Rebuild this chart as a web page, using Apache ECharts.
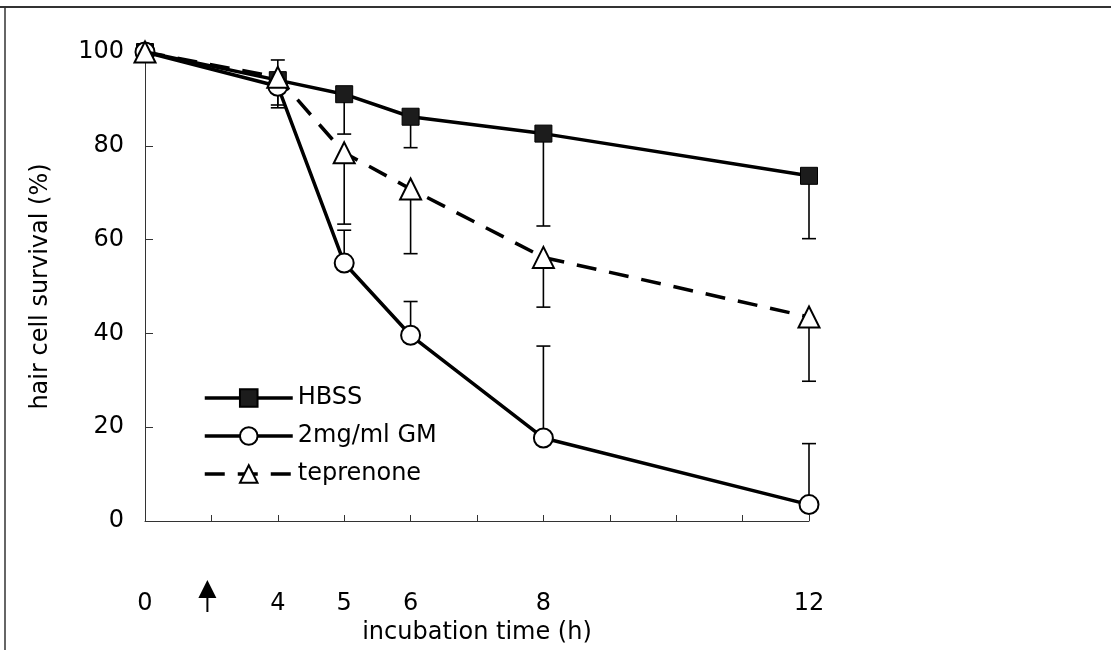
<!DOCTYPE html>
<html>
<head>
<meta charset="utf-8">
<script src="https://cdn.jsdelivr.net/npm/echarts@6/dist/echarts.min.js"></script>
<style>
  html, body { margin: 0; padding: 0; background: #fff; }
  #chart { width: 1111px; height: 650px; }
</style>
</head>
<body>
<div id="chart"></div>
<script>
// x axis: evenly spaced slots, only some of them labelled
const xSlots = ['0', '2', '4', '5', '6', '7', '8', '9', '10', '11', '12']
const xShown = ['0', '4', '5', '6', '8', '12']
const arrowAt = '2'

const hours = ['0', '4', '5', '6', '8', '12']
const hbss = [100, 94, 91, 86.2, 82.6, 73.6]
const gm = [100, 92.7, 55, 39.6, 17.7, 3.5]
const tep = [100, 94.6, 78.5, 70.8, 56.2, 43.5]

// end point of each error bar (SD)
const hbssErr = [null, 88.7, 82.5, 79.6, 62.9, 60.2]
const gmErr = [null, 88.1, 62.0, 46.8, 37.3, 16.5]
const tepErr = [null, 98.3, 63.3, 57.0, 45.6, 29.8]

const yTicks = { min: 0, max: 100, step: 20 }

const FONT = 'DejaVu Sans'
const chart = echarts.init(document.getElementById('chart'))

function pts(vals) {
  return hours.map((h, i) => [h, vals[i]])
}
function errs(vals, ends) {
  return hours.map((h, i) => [h, vals[i], ends[i]]).filter(d => d[2] != null)
}

function errorBar(params, api) {
  const x = api.value(0)
  const a = api.coord([x, api.value(1)])
  const b = api.coord([x, api.value(2)])
  const hw = 7
  const st = { stroke: '#000', lineWidth: 1.6 }
  return {
    type: 'group',
    children: [
      { type: 'line', shape: { x1: a[0], y1: a[1], x2: b[0], y2: b[1] }, style: st },
      { type: 'line', shape: { x1: b[0] - hw, y1: b[1], x2: b[0] + hw, y2: b[1] }, style: st }
    ]
  }
}

function errSeries(data) {
  return {
    type: 'custom',
    renderItem: errorBar,
    data,
    encode: { x: 0, y: [1, 2] },
    z: 1,
    silent: true
  }
}

chart.setOption({
  animation: false,
  backgroundColor: '#fff',
  grid: { left: 145, right: 302, top: 52, bottom: 118 },
  legend: {
    orient: 'vertical',
    left: 198,
    top: 381,
    itemWidth: 88,
    itemHeight: 22,
    itemGap: 14,
    lineStyle: { width: 3.5 },
    textStyle: { fontFamily: FONT, fontSize: 24, color: '#000' },
    data: ['HBSS', '2mg/ml GM', 'teprenone']
  },
  xAxis: {
    type: 'category',
    data: xSlots,
    boundaryGap: false,
    name: 'incubation time (h)',
    nameLocation: 'middle',
    nameGap: 100,
    nameTextStyle: { fontFamily: FONT, fontSize: 24, color: '#000' },
    axisLine: { lineStyle: { color: '#333', width: 1 } },
    axisTick: { inside: true, length: 6, alignWithLabel: true, interval: 0, lineStyle: { color: '#333' } },
    axisLabel: {
      interval: 0,
      margin: 71,
      fontFamily: FONT,
      fontSize: 24,
      color: '#000',
      formatter: v => (xShown.includes(v) ? v : '')
    },
    splitLine: { show: false }
  },
  yAxis: {
    type: 'value',
    min: yTicks.min,
    max: yTicks.max,
    interval: yTicks.step,
    name: 'hair cell survival (%)',
    nameLocation: 'middle',
    nameGap: 92,
    nameRotate: 90,
    nameTextStyle: { fontFamily: FONT, fontSize: 24, color: '#000' },
    axisLine: { show: true, lineStyle: { color: '#333', width: 1 } },
    axisTick: { show: true, inside: true, length: 8, lineStyle: { color: '#333' } },
    axisLabel: { margin: 21, fontFamily: FONT, fontSize: 24, color: '#000' },
    splitLine: { show: false }
  },
  series: [
    errSeries(errs(hbss, hbssErr)),
    errSeries(errs(gm, gmErr)),
    errSeries(errs(tep, tepErr)),
    {
      name: 'HBSS',
      type: 'line',
      data: pts(hbss),
      symbol: 'rect',
      symbolSize: 17,
      lineStyle: { color: '#000', width: 3.5 },
      itemStyle: { color: '#1c1c1c', borderColor: '#000', borderWidth: 1 },
      z: 3
    },
    {
      name: '2mg/ml GM',
      type: 'line',
      data: pts(gm),
      symbol: 'circle',
      symbolSize: 19,
      lineStyle: { color: '#000', width: 3.5 },
      itemStyle: { color: '#fff', borderColor: '#000', borderWidth: 2 },
      z: 3
    },
    {
      name: 'teprenone',
      type: 'line',
      data: pts(tep),
      symbol: 'triangle',
      symbolSize: 21,
      lineStyle: { color: '#000', width: 3.5, type: [20, 13] },
      itemStyle: { color: '#fff', borderColor: '#000', borderWidth: 2 },
      z: 4
    }
  ]
})

// frame edges and the arrow under the axis
const ax = chart.convertToPixel({ xAxisIndex: 0 }, arrowAt)
chart.setOption({
  graphic: [
    { type: 'line', shape: { x1: 0, y1: 7, x2: 1111, y2: 7 }, style: { stroke: '#333', lineWidth: 2 } },
    { type: 'line', shape: { x1: 5, y1: 7, x2: 5, y2: 650 }, style: { stroke: '#333', lineWidth: 1.5 } },
    { type: 'polygon', shape: { points: [[ax - 4, 580], [ax - 13, 598], [ax + 5, 598]] }, style: { fill: '#000' } },
    { type: 'line', shape: { x1: ax - 4, y1: 598, x2: ax - 4, y2: 612 }, style: { stroke: '#000', lineWidth: 2 } }
  ]
})
</script>
</body>
</html>
